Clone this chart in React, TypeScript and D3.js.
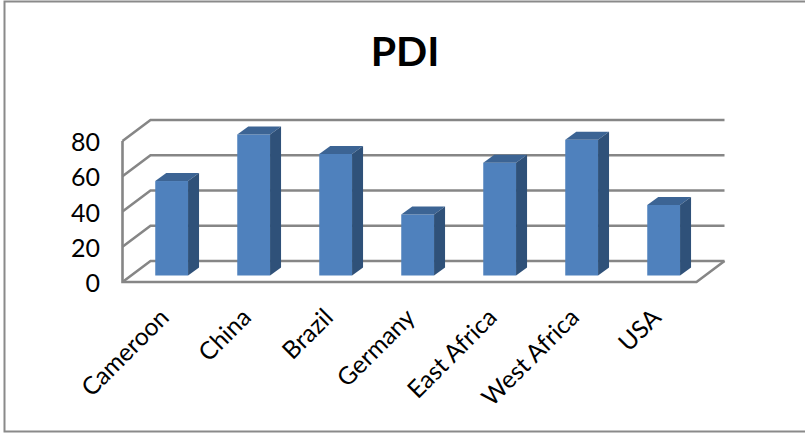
import React from "react";
import * as d3 from "d3";

const categories = ["Cameroon", "China", "Brazil", "Germany", "East Africa", "West Africa", "USA"];
const values = [53.6, 80, 69, 34.6, 64, 77, 40];
const yTicks = [0, 20, 40, 60, 80];
const title = "PDI";

const W = 805, H = 433;
const FONT = "Lato, Carlito, 'Open Sans', sans-serif";
const dx = 28, dy = -21;       // wall depth
const barDx = 11, barDy = -8;  // bar depth
const floorY = 282;
const x = d3.scaleBand<string>().domain(categories).range([122.5, 696.5]);
const y = d3.scaleLinear().domain([0, 80]).range([floorY, 141]);
const barBase = 275.5;
const GRID = "#868686";

export default function App() {
  const bw = x.bandwidth() * 0.4;
  const x0 = x.range()[0], x1 = x.range()[1];
  const hVal = (v: number) => y(0) - y(v);
  return (
    <svg width={W} height={H} style={{ position: "absolute", left: 0, top: 0, background: "#fff" }} fontFamily={FONT}>
      <path d={`M${W} 1.5H4.5V431.5H${W}`} fill="none" stroke="#8a8a8a" strokeWidth={2} />
      <text x={405} y={66} textAnchor="middle" fontSize={41} fontWeight={700} fill="#000">{title}</text>
      <defs>
        <filter id="soft" x="-5%" y="-5%" width="110%" height="110%">
          <feGaussianBlur stdDeviation="0.4" />
        </filter>
      </defs>
      <g fill="none" stroke={GRID} strokeWidth={2.6} filter="url(#soft)">
        {yTicks.map((t) => (
          <path key={t} d={`M${x0} ${y(t)}L${x0 + dx} ${y(t) + dy}H${x1 + dx}`} />
        ))}
        <path d={`M${x0} ${y(80)}V${floorY}H${x1}L${x1 + dx} ${floorY + dy}`} />
      </g>
      {categories.map((c, i) => {
        const bx = (x(c) as number) + bw * 0.9375 + 2;
        const h = hVal(values[i]);
        const top = barBase - h;
        return (
          <g key={c}>
            <rect x={bx} y={top} width={bw} height={h} fill="#4f81bd" />
            <path d={`M${bx} ${top}l${barDx} ${barDy}h${bw}l${-barDx} ${-barDy}z`} fill="#3c6494" />
            <path d={`M${bx + bw} ${top}l${barDx} ${barDy}v${h}l${-barDx} ${-barDy}z`} fill="#2f5179" />
          </g>
        );
      })}
      <g fontSize={25} fill="#000" textAnchor="end">
        {yTicks.map((t) => (
          <text key={t} x={100} y={y(t) + 10}>{t}</text>
        ))}
      </g>
      <g fontSize={24.5} fill="#000" textAnchor="end">
        {categories.map((c) => {
          const cx = (x(c) as number) + x.bandwidth() / 2 - 6;
          return (
            <text key={c} transform={`translate(${cx},306) rotate(-45)`} dy="0.75em">{c}</text>
          );
        })}
      </g>
    </svg>
  );
}
